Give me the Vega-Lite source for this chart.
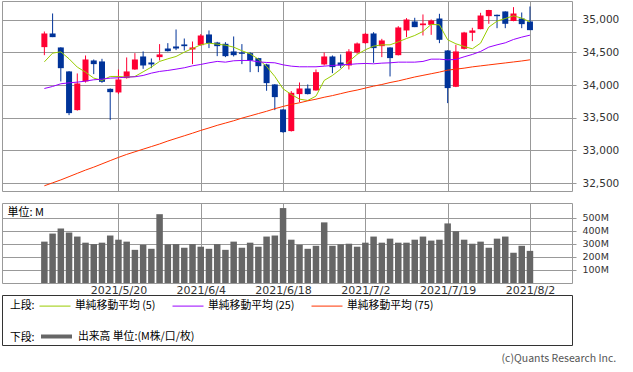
{
  "$schema": "https://vega.github.io/schema/vega-lite/v6.json",
  "padding": {"left": 1, "top": 0, "right": 0, "bottom": 0},
  "autosize": {"type": "pad"},
  "bounds": "flush",
  "spacing": 12,
  "title": {"text": "(c)Quants Research Inc.", "orient": "bottom", "anchor": "end", "frame": "bounds", "offset": 8, "dx": -3, "fontSize": 10.5, "font": "Noto Sans CJK JP", "fontWeight": "normal", "color": "#555555"},
  "resolve": {"scale": {"x": "shared", "color": "independent"}, "legend": {"color": "independent"}},
  "datasets": {
    "px": [
      {"i": 0, "d": "2021/5/7", "o": 34582, "h": 34821, "l": 34459, "c": 34791, "v": 318, "m5": 34357, "m25": 33949, "m75": 32460},
      {"i": 1, "d": "2021/5/10", "o": 34791, "h": 35097, "l": 34735, "c": 34735, "v": 380, "m5": 34490, "m25": 33980, "m75": 32505},
      {"i": 2, "d": "2021/5/11", "o": 34577, "h": 34580, "l": 34057, "c": 34260, "v": 419, "m5": 34510, "m25": 34021, "m75": 32550},
      {"i": 3, "d": "2021/5/12", "o": 34210, "h": 34215, "l": 33541, "c": 33572, "v": 388, "m5": 34403, "m25": 34036, "m75": 32600},
      {"i": 4, "d": "2021/5/13", "o": 33618, "h": 34179, "l": 33610, "c": 34026, "v": 357, "m5": 34276, "m25": 34046, "m75": 32650},
      {"i": 5, "d": "2021/5/14", "o": 34057, "h": 34454, "l": 34040, "c": 34393, "v": 310, "m5": 34199, "m25": 34062, "m75": 32700},
      {"i": 6, "d": "2021/5/17", "o": 34378, "h": 34393, "l": 34169, "c": 34322, "v": 299, "m5": 34108, "m25": 34082, "m75": 32745},
      {"i": 7, "d": "2021/5/18", "o": 34363, "h": 34403, "l": 34036, "c": 34051, "v": 310, "m5": 34072, "m25": 34092, "m75": 32795},
      {"i": 8, "d": "2021/5/19", "o": 33944, "h": 33950, "l": 33465, "c": 33893, "v": 365, "m5": 34133, "m25": 34108, "m75": 32845},
      {"i": 9, "d": "2021/5/20", "o": 33888, "h": 34240, "l": 33863, "c": 34087, "v": 333, "m5": 34133, "m25": 34113, "m75": 32894},
      {"i": 10, "d": "2021/5/21", "o": 34108, "h": 34424, "l": 34100, "c": 34210, "v": 318, "m5": 34123, "m25": 34123, "m75": 32940},
      {"i": 11, "d": "2021/5/24", "o": 34240, "h": 34490, "l": 34235, "c": 34393, "v": 255, "m5": 34133, "m25": 34128, "m75": 32980},
      {"i": 12, "d": "2021/5/25", "o": 34439, "h": 34516, "l": 34250, "c": 34301, "v": 294, "m5": 34204, "m25": 34148, "m75": 33020},
      {"i": 13, "d": "2021/5/26", "o": 34347, "h": 34408, "l": 34260, "c": 34317, "v": 263, "m5": 34276, "m25": 34184, "m75": 33060},
      {"i": 14, "d": "2021/5/27", "o": 34429, "h": 34628, "l": 34378, "c": 34470, "v": 529, "m5": 34363, "m25": 34210, "m75": 33100},
      {"i": 15, "d": "2021/5/28", "o": 34561, "h": 34643, "l": 34515, "c": 34520, "v": 297, "m5": 34403, "m25": 34225, "m75": 33145},
      {"i": 16, "d": "2021/6/1", "o": 34592, "h": 34852, "l": 34536, "c": 34561, "v": 299, "m5": 34439, "m25": 34245, "m75": 33185},
      {"i": 17, "d": "2021/6/2", "o": 34623, "h": 34714, "l": 34531, "c": 34597, "v": 271, "m5": 34505, "m25": 34266, "m75": 33225},
      {"i": 18, "d": "2021/6/3", "o": 34546, "h": 34668, "l": 34322, "c": 34577, "v": 299, "m5": 34561, "m25": 34296, "m75": 33265},
      {"i": 19, "d": "2021/6/4", "o": 34612, "h": 34781, "l": 34605, "c": 34760, "v": 279, "m5": 34617, "m25": 34317, "m75": 33307},
      {"i": 20, "d": "2021/6/7", "o": 34776, "h": 34837, "l": 34567, "c": 34643, "v": 263, "m5": 34643, "m25": 34342, "m75": 33345},
      {"i": 21, "d": "2021/6/8", "o": 34653, "h": 34663, "l": 34444, "c": 34597, "v": 299, "m5": 34628, "m25": 34363, "m75": 33385},
      {"i": 22, "d": "2021/6/9", "o": 34633, "h": 34658, "l": 34429, "c": 34444, "v": 255, "m5": 34612, "m25": 34352, "m75": 33420},
      {"i": 23, "d": "2021/6/10", "o": 34516, "h": 34745, "l": 34439, "c": 34459, "v": 318, "m5": 34582, "m25": 34373, "m75": 33455},
      {"i": 24, "d": "2021/6/11", "o": 34500, "h": 34628, "l": 34322, "c": 34480, "v": 271, "m5": 34526, "m25": 34378, "m75": 33495},
      {"i": 25, "d": "2021/6/14", "o": 34490, "h": 34505, "l": 34199, "c": 34378, "v": 310, "m5": 34480, "m25": 34378, "m75": 33530},
      {"i": 26, "d": "2021/6/15", "o": 34414, "h": 34418, "l": 34199, "c": 34291, "v": 279, "m5": 34398, "m25": 34357, "m75": 33565},
      {"i": 27, "d": "2021/6/16", "o": 34317, "h": 34327, "l": 33914, "c": 34031, "v": 357, "m5": 34286, "m25": 34347, "m75": 33600},
      {"i": 28, "d": "2021/6/17", "o": 34011, "h": 34015, "l": 33618, "c": 33817, "v": 365, "m5": 34133, "m25": 34342, "m75": 33640},
      {"i": 29, "d": "2021/6/18", "o": 33628, "h": 33632, "l": 33271, "c": 33281, "v": 576, "m5": 33944, "m25": 34311, "m75": 33674},
      {"i": 30, "d": "2021/6/21", "o": 33297, "h": 33909, "l": 33290, "c": 33883, "v": 333, "m5": 33858, "m25": 34291, "m75": 33705},
      {"i": 31, "d": "2021/6/22", "o": 33863, "h": 34041, "l": 33740, "c": 33949, "v": 294, "m5": 33786, "m25": 34281, "m75": 33730},
      {"i": 32, "d": "2021/6/23", "o": 33949, "h": 34011, "l": 33858, "c": 33863, "v": 263, "m5": 33766, "m25": 34281, "m75": 33760},
      {"i": 33, "d": "2021/6/24", "o": 33919, "h": 34240, "l": 33915, "c": 34199, "v": 286, "m5": 33832, "m25": 34281, "m75": 33785},
      {"i": 34, "d": "2021/6/25", "o": 34317, "h": 34500, "l": 34301, "c": 34439, "v": 466, "m5": 34072, "m25": 34291, "m75": 33815},
      {"i": 35, "d": "2021/6/28", "o": 34439, "h": 34454, "l": 34184, "c": 34276, "v": 286, "m5": 34148, "m25": 34301, "m75": 33840},
      {"i": 36, "d": "2021/6/29", "o": 34347, "h": 34470, "l": 34260, "c": 34301, "v": 297, "m5": 34245, "m25": 34311, "m75": 33870},
      {"i": 37, "d": "2021/6/30", "o": 34301, "h": 34551, "l": 34240, "c": 34516, "v": 302, "m5": 34363, "m25": 34317, "m75": 33900},
      {"i": 38, "d": "2021/7/1", "o": 34500, "h": 34653, "l": 34480, "c": 34638, "v": 279, "m5": 34470, "m25": 34327, "m75": 33925},
      {"i": 39, "d": "2021/7/2", "o": 34643, "h": 34801, "l": 34633, "c": 34786, "v": 310, "m5": 34541, "m25": 34332, "m75": 33955},
      {"i": 40, "d": "2021/7/6", "o": 34791, "h": 34811, "l": 34342, "c": 34567, "v": 357, "m5": 34597, "m25": 34327, "m75": 33985},
      {"i": 41, "d": "2021/7/7", "o": 34597, "h": 34709, "l": 34429, "c": 34684, "v": 310, "m5": 34617, "m25": 34337, "m75": 34010},
      {"i": 42, "d": "2021/7/8", "o": 34577, "h": 34580, "l": 34133, "c": 34414, "v": 341, "m5": 34617, "m25": 34342, "m75": 34040},
      {"i": 43, "d": "2021/7/9", "o": 34459, "h": 34903, "l": 34455, "c": 34883, "v": 310, "m5": 34663, "m25": 34352, "m75": 34065},
      {"i": 44, "d": "2021/7/12", "o": 34837, "h": 35026, "l": 34735, "c": 35005, "v": 310, "m5": 34714, "m25": 34352, "m75": 34095},
      {"i": 45, "d": "2021/7/13", "o": 34975, "h": 35031, "l": 34888, "c": 34888, "v": 333, "m5": 34760, "m25": 34352, "m75": 34125},
      {"i": 46, "d": "2021/7/14", "o": 34918, "h": 35082, "l": 34760, "c": 34944, "v": 357, "m5": 34822, "m25": 34363, "m75": 34150},
      {"i": 47, "d": "2021/7/15", "o": 34923, "h": 35005, "l": 34770, "c": 34990, "v": 326, "m5": 34929, "m25": 34398, "m75": 34175},
      {"i": 48, "d": "2021/7/16", "o": 35020, "h": 35092, "l": 34643, "c": 34694, "v": 333, "m5": 34924, "m25": 34398, "m75": 34200},
      {"i": 49, "d": "2021/7/19", "o": 34531, "h": 34535, "l": 33725, "c": 33955, "v": 458, "m5": 34694, "m25": 34388, "m75": 34230},
      {"i": 50, "d": "2021/7/20", "o": 33975, "h": 34618, "l": 33970, "c": 34516, "v": 398, "m5": 34633, "m25": 34393, "m75": 34245},
      {"i": 51, "d": "2021/7/21", "o": 34556, "h": 34816, "l": 34546, "c": 34806, "v": 333, "m5": 34592, "m25": 34434, "m75": 34260},
      {"i": 52, "d": "2021/7/22", "o": 34801, "h": 34878, "l": 34674, "c": 34837, "v": 302, "m5": 34556, "m25": 34470, "m75": 34280},
      {"i": 53, "d": "2021/7/23", "o": 34857, "h": 35107, "l": 34855, "c": 35066, "v": 318, "m5": 34643, "m25": 34516, "m75": 34295},
      {"i": 54, "d": "2021/7/26", "o": 35056, "h": 35153, "l": 34939, "c": 35150, "v": 271, "m5": 34888, "m25": 34582, "m75": 34310},
      {"i": 55, "d": "2021/7/27", "o": 35077, "h": 35080, "l": 34872, "c": 35056, "v": 341, "m5": 34980, "m25": 34617, "m75": 34325},
      {"i": 56, "d": "2021/7/28", "o": 35128, "h": 35130, "l": 34872, "c": 34939, "v": 357, "m5": 35020, "m25": 34648, "m75": 34340},
      {"i": 57, "d": "2021/7/29", "o": 34980, "h": 35194, "l": 34978, "c": 35097, "v": 232, "m5": 35061, "m25": 34699, "m75": 34355},
      {"i": 58, "d": "2021/7/30", "o": 35020, "h": 35112, "l": 34872, "c": 34934, "v": 286, "m5": 35026, "m25": 34735, "m75": 34370},
      {"i": 59, "d": "2021/8/2", "o": 34975, "h": 35204, "l": 34842, "c": 34842, "v": 247, "m5": 34969, "m25": 34765, "m75": 34388}
    ]
  },
  "vconcat": [
    {
      "width": 570,
      "height": 190,
      "data": {"name": "px"},
      "encoding": {
        "x": {"field": "i", "type": "quantitative",
          "scale": {"domain": [-4.54, 63.5], "nice": false, "zero": false},
          "axis": {"title": null, "values": [9, 19, 29, 39, 49, 59], "labels": false, "ticks": false, "domain": false, "grid": true, "gridColor": "#999999", "gridOpacity": 1}},
        "y": {"field": "l", "type": "quantitative",
          "scale": {"domain": [32380, 35288], "nice": false, "zero": false},
          "axis": {"orient": "right", "title": null, "values": [32500, 33000, 33500, 34000, 34500, 35000], "labelExpr": "format(datum.value, ',d')", "labelOverlap": false, "labelSeparation": 0, "grid": true, "gridColor": "#999999", "gridOpacity": 1, "domain": false, "tickColor": "#999999", "tickSize": 4, "labelFont": "DejaVu Sans", "labelFontSize": 10.5, "labelColor": "#333333", "labelPadding": 6}}
      },
      "layer": [
        {
          "mark": {"type": "rule", "strokeWidth": 1},
          "encoding": {
            "y2": {"field": "h"},
            "color": {"condition": {"test": "datum.c >= datum.o", "value": "#ff0033"}, "value": "#003399"}
          }
        },
        {
          "mark": {"type": "bar", "size": 6},
          "encoding": {
            "y": {"field": "o", "type": "quantitative"},
            "y2": {"field": "c"},
            "color": {"condition": {"test": "datum.c >= datum.o", "value": "#ff0033"}, "value": "#003399"}
          }
        },
        {
          "transform": [{"fold": ["m5", "m25", "m75"], "as": ["s", "mv"]}],
          "mark": {"type": "line", "strokeWidth": 1},
          "encoding": {
            "y": {"field": "mv", "type": "quantitative"},
            "color": {"field": "s", "type": "nominal",
              "scale": {"domain": ["m5", "m25", "m75"], "range": ["#99cc00", "#9900ff", "#ff3300"]},
              "legend": {"orient": "none", "legendX": 8, "legendY": 289, "direction": "horizontal", "padding": 0,
                "title": "上段:", "titleOrient": "left", "titleAnchor": "middle", "titleFont": "Noto Sans CJK JP", "titleFontSize": 10.8, "titleFontWeight": "normal", "titleColor": "#000000", "titlePadding": 4, "titleBaseline": "middle",
                "symbolType": "stroke", "symbolSize": 961, "symbolStrokeWidth": 1,
                "labelFont": "Noto Sans CJK JP", "labelFontSize": 10.8, "labelColor": "#000000", "labelOffset": 4, "labelLimit": 0, "columnPadding": 14,
                "labelExpr": "datum.label == 'm5' ? '単純移動平均 (5)' : datum.label == 'm25' ? '単純移動平均 (25)' : '単純移動平均 (75)'",
                "encode": {"title": {"update": {"dy": {"value": 6}}}}}}
          }
        }
      ]
    },
    {
      "width": 570,
      "height": 80,
      "data": {"name": "px"},
      "mark": {"type": "bar", "size": 6.5},
      "encoding": {
        "x": {"field": "i", "type": "quantitative",
          "scale": {"domain": [-4.54, 63.5], "nice": false, "zero": false},
          "axis": {"title": null, "values": [9, 19, 29, 39, 49, 59], "labelExpr": "datum.value == 9 ? '2021/5/20' : datum.value == 19 ? '2021/6/4' : datum.value == 29 ? '2021/6/18' : datum.value == 39 ? '2021/7/2' : datum.value == 49 ? '2021/7/19' : '2021/8/2'", "labelOverlap": false, "labelAngle": 0, "ticks": false, "domain": false, "grid": true, "gridColor": "#999999", "gridOpacity": 1, "labelFont": "DejaVu Sans", "labelFontSize": 11, "labelColor": "#333333", "labelPadding": 1}},
        "y": {"field": "v", "type": "quantitative",
          "scale": {"domain": [0, 615], "nice": false},
          "axis": {"orient": "right", "values": [100, 200, 300, 400, 500], "labelExpr": "datum.value + 'M'", "labelOverlap": false, "grid": true, "gridColor": "#999999", "gridOpacity": 1, "domain": false, "tickColor": "#999999", "tickSize": 4, "labelFont": "DejaVu Sans", "labelFontSize": 9.5, "labelColor": "#333333", "labelPadding": 6,
            "title": "単位: M", "titleAngle": 0, "titleX": -565, "titleY": 9, "titleAlign": "left", "titleBaseline": "middle", "titleFont": "Noto Sans CJK JP", "titleFontSize": 11, "titleFontWeight": "normal", "titleColor": "#000000"}},
        "color": {"datum": "出来高 単位:(M株/口/枚)", "type": "nominal",
          "scale": {"range": ["#666666"]},
          "legend": {"orient": "none", "legendX": 8, "legendY": 116, "direction": "horizontal", "padding": 0,
            "title": "下段:", "titleOrient": "left", "titleAnchor": "middle", "titleFont": "Noto Sans CJK JP", "titleFontSize": 10.8, "titleFontWeight": "normal", "titleColor": "#000000", "titlePadding": 4, "titleBaseline": "middle",
            "symbolType": "stroke", "symbolSize": 961, "symbolStrokeWidth": 4, "symbolStrokeColor": "#666666",
            "labelFont": "Noto Sans CJK JP", "labelFontSize": 10.8, "labelColor": "#000000", "labelOffset": 4, "labelLimit": 0,
            "encode": {"symbols": {"update": {"stroke": {"value": "#666666"}, "strokeWidth": {"value": 4}}}, "title": {"update": {"dy": {"value": 6}}}}}}
      }
    },
    {
      "width": 631,
      "height": 50,
      "data": {"values": []},
      "mark": {"type": "point"},
      "encoding": {},
      "view": {"stroke": "#333333"}
    }
  ],
  "config": {
    "view": {"stroke": "#999999"},
    "background": "#ffffff",
    "axis": {"labelOverlap": false}
  }
}
